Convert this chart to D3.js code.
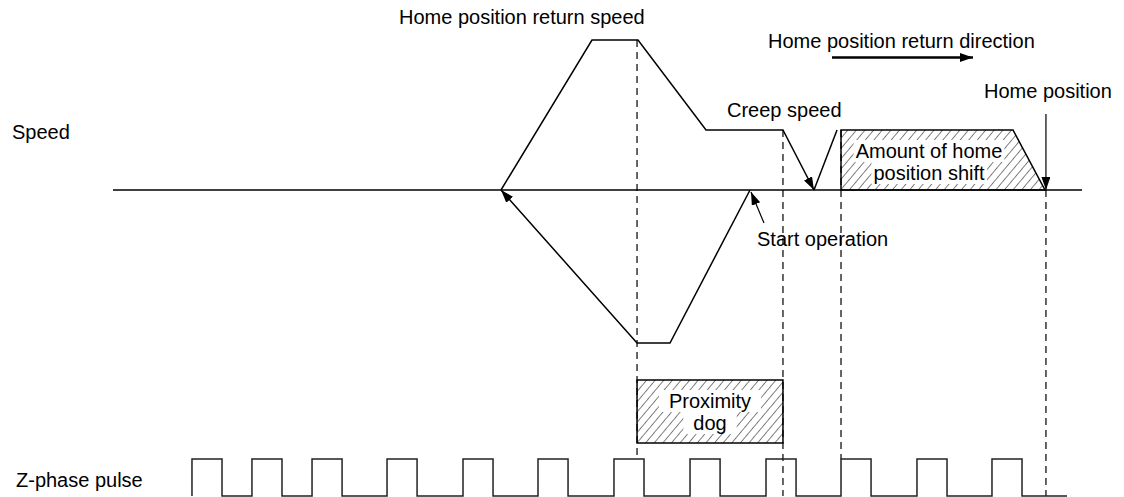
<!DOCTYPE html>
<html>
<head>
<meta charset="utf-8">
<script src="https://cdn.jsdelivr.net/npm/d3@7"></script>
<style>
  body { margin: 0; background: #fff; }
  text { font-family: "Liberation Sans", Arial, sans-serif; font-size: 20px; fill: #000; }
</style>
</head>
<body>
<div id="chart"></div>
<script>
// time axis runs 0..100, speed in % of home position return speed
var returnSpeed = 100, creepSpeed = 40, reverseSpeed = -102;

// search motion: start -> reverse -> hits dog rear end
var reverseRun = [[65.74, 0], [57.48, reverseSpeed], [54.08, reverseSpeed], [40.04, 0]];
// home position return: accelerate, decelerate on dog, creep, stop
var returnRun = [[40.04, 0], [49.43, returnSpeed], [54.18, returnSpeed], [61.20, creepSpeed], [69.14, creepSpeed], [72.34, 0]];
var creepRestart = [[72.34, 0], [74.72, creepSpeed]];
// amount of home position shift (hatched)
var shiftRun = [[75.13, 0], [75.13, creepSpeed], [92.88, creepSpeed], [96.18, 0]];

// proximity dog on/off
var dogOn = 54.08, dogOff = 69.14;

// Z-phase pulse rising edges and pulse width
var zRises = [8.15, 14.34, 20.54, 28.28, 36.12, 43.86, 51.70, 59.55, 67.39, 75.13, 82.97, 90.71];
var zWidth = 3.1, zEnd = 98.45;

// dashed guide lines: time, top (speed), bottom (pulse level)
var guides = [
  { t: 54.08, top: returnSpeed, bottom: 1 },
  { t: 69.14, top: creepSpeed, bottom: 0 },
  { t: 75.13, top: creepSpeed, bottom: 1 },
  { t: 96.28, top: 0, bottom: 0 }
];

var W = 1124, H = 497;
var svg = d3.select("#chart").append("svg")
    .attr("width", W).attr("height", H);

var x = d3.scaleLinear().domain([0, 100]).range([113, 1082]);
var y = d3.scaleLinear().domain([0, 100]).range([190, 40]);
var yPulse = d3.scaleLinear().domain([0, 1]).range([496, 459]);

var defs = svg.append("defs");
defs.append("marker")
    .attr("id", "head")
    .attr("markerUnits", "userSpaceOnUse")
    .attr("markerWidth", 14).attr("markerHeight", 10)
    .attr("refX", 13).attr("refY", 4.5)
    .attr("orient", "auto")
  .append("path")
    .attr("d", "M0,0 L13,4.5 L0,9 Z")
    .attr("fill", "#000");

defs.append("pattern")
    .attr("id", "hatch")
    .attr("patternUnits", "userSpaceOnUse")
    .attr("width", 6.6).attr("height", 6.6)
    .attr("patternTransform", "rotate(40)")
  .append("line")
    .attr("x1", 0).attr("y1", 0).attr("x2", 0).attr("y2", 6.6)
    .attr("stroke", "#000").attr("stroke-width", 1);

var line = d3.line()
    .x(function(d) { return x(d[0]); })
    .y(function(d) { return y(d[1]); });

// dashed guides
svg.selectAll(".guide")
    .data(guides)
  .enter().append("line")
    .attr("class", "guide")
    .attr("x1", function(d) { return x(d.t); })
    .attr("x2", function(d) { return x(d.t); })
    .attr("y1", function(d) { return y(d.top); })
    .attr("y2", function(d) { return yPulse(d.bottom); })
    .attr("stroke", "#000")
    .attr("stroke-width", 1.2)
    .attr("stroke-dasharray", "7,5");

// speed = 0 axis
svg.append("line")
    .attr("x1", x(0)).attr("x2", x(100))
    .attr("y1", y(0)).attr("y2", y(0))
    .attr("stroke", "#000").attr("stroke-width", 1.5);

// shift area
svg.append("path")
    .attr("d", line(shiftRun) + "Z")
    .attr("fill", "url(#hatch)")
    .attr("stroke", "#000")
    .attr("stroke-width", 1.5);

// speed profile
[reverseRun, returnRun].forEach(function(run) {
    svg.append("path")
        .attr("d", line(run))
        .attr("fill", "none")
        .attr("stroke", "#000")
        .attr("stroke-width", 1.5)
        .attr("marker-end", "url(#head)");
});
svg.append("path")
    .attr("d", line(creepRestart))
    .attr("fill", "none")
    .attr("stroke", "#000")
    .attr("stroke-width", 1.5);

// proximity dog
svg.append("rect")
    .attr("x", x(dogOn)).attr("y", 380)
    .attr("width", x(dogOff) - x(dogOn)).attr("height", 63)
    .attr("fill", "url(#hatch)")
    .attr("stroke", "#000").attr("stroke-width", 1.5);

// Z-phase pulse train
var pulsePts = [];
zRises.forEach(function(r) {
    pulsePts.push([r, 0], [r, 1], [r + zWidth, 1], [r + zWidth, 0]);
});
pulsePts.push([zEnd, 0]);
svg.append("path")
    .attr("d", d3.line()
        .x(function(d) { return x(d[0]); })
        .y(function(d) { return yPulse(d[1]); })(pulsePts))
    .attr("fill", "none")
    .attr("stroke", "#222")
    .attr("stroke-width", 1.5);

// labels with white backing inside hatched areas
function boxedLabel(lines, cx, baseY, padX) {
    var g = svg.append("g");
    var texts = lines.map(function(s, i) {
        return g.append("text")
            .attr("x", cx).attr("y", baseY + i * 22)
            .attr("text-anchor", "middle")
            .text(s);
    });
    texts.forEach(function(t) {
        var b = t.node().getBBox();
        g.insert("rect", "text")
            .attr("x", b.x - padX).attr("y", b.y)
            .attr("width", b.width + 2 * padX).attr("height", b.height)
            .attr("fill", "#fff");
    });
}
boxedLabel(["Amount of home", "position shift"], 929, 158, 2);
boxedLabel(["Proximity", "dog"], 710, 408, 10);

// plain labels
var labels = [
    { s: "Home position return speed", x: 399, y: 24 },
    { s: "Home position return direction", x: 768, y: 48 },
    { s: "Creep speed", x: 727, y: 117 },
    { s: "Home position", x: 984, y: 98 },
    { s: "Speed", x: 12, y: 139 },
    { s: "Start operation", x: 757, y: 246 },
    { s: "Z-phase pulse", x: 16, y: 487 }
];
svg.selectAll(".lbl")
    .data(labels)
  .enter().append("text")
    .attr("class", "lbl")
    .attr("x", function(d) { return d.x; })
    .attr("y", function(d) { return d.y; })
    .text(function(d) { return d.s; });

// direction arrow
svg.append("line")
    .attr("x1", 832).attr("y1", 57.5).attr("x2", 973).attr("y2", 57.5)
    .attr("stroke", "#000").attr("stroke-width", 2.5)
    .attr("marker-end", "url(#head)");

// home position pointer
svg.append("line")
    .attr("x1", x(96.28)).attr("y1", 114).attr("x2", x(96.28)).attr("y2", y(0))
    .attr("stroke", "#000").attr("stroke-width", 1.2)
    .attr("marker-end", "url(#head)");

// start operation pointer
svg.append("line")
    .attr("x1", 764).attr("y1", 223).attr("x2", x(65.74) + 1).attr("y2", y(0) + 2)
    .attr("stroke", "#000").attr("stroke-width", 1.2)
    .attr("marker-end", "url(#head)");
</script>
</body>
</html>
